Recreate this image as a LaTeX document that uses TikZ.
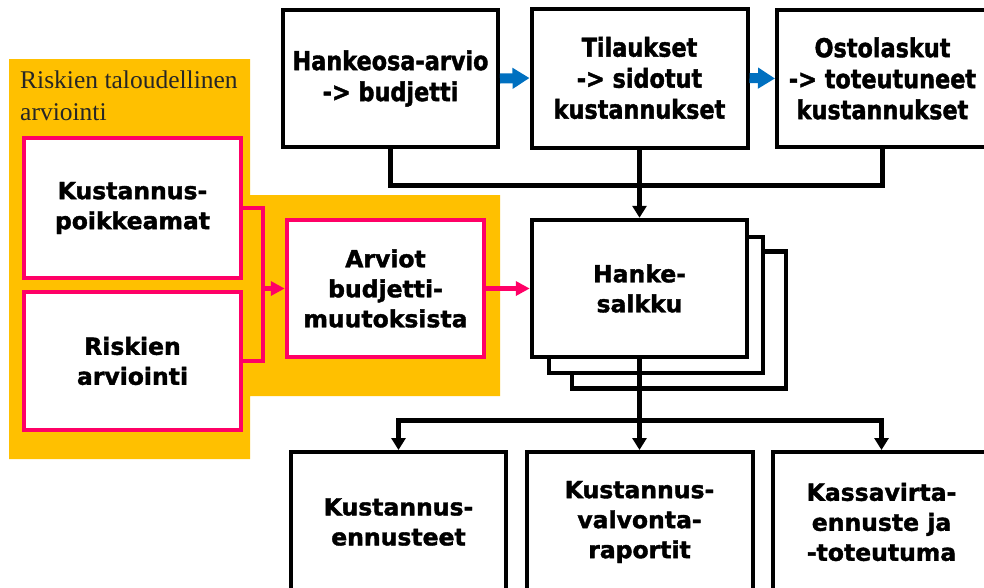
\documentclass[tikz,border=0pt]{standalone}
\usepackage{fontspec}
\setmainfont{DejaVu Sans}[BoldFeatures={FakeBold=1.6}]
\newfontfamily\titlefont{Liberation Serif}
\newfontfamily\condfont{DejaVu Sans}[FakeStretch=0.86,BoldFeatures={FakeBold=1.6}]
\usetikzlibrary{arrows.meta}
\definecolor{amber}{RGB}{255,192,0}
\definecolor{hotpink}{RGB}{255,0,102}
\definecolor{flowblue}{RGB}{0,112,192}
\begin{document}
\begin{tikzpicture}[x=1pt,y=-1pt,
  txt/.style={align=center,inner sep=0pt,font=\bfseries\fontsize{23.5}{30}\selectfont},
  topbox/.style={draw=black,line width=4pt,fill=white,align=center,inner sep=0pt,
    font=\condfont\bfseries\fontsize{26}{31}\selectfont},
  blackbox/.style={draw=black,line width=4.5pt,fill=white,txt},
  lowbox/.style={draw=black,line width=4pt,fill=white,txt},
  pinkbox/.style={draw=hotpink,line width=4.5pt,fill=white,txt},
  wire/.style={draw=black,line width=5pt},
  wirearrow/.style={wire,-{Triangle[length=12pt,width=14pt]}},
  pinkwire/.style={draw=hotpink,line width=4.5pt},
  pinkarrow/.style={pinkwire,-{Triangle[length=14pt,width=14pt]}},
  bluearrow/.style={draw=flowblue,line width=10pt,-{Triangle[length=17pt,width=20pt]}},
  title/.style={anchor=base west,inner sep=0pt,text=black!85,
    font=\titlefont\fontsize{25.5}{32}\selectfont}
]
\useasboundingbox (0,0) rectangle (984,587);
\clip (0,0) rectangle (984,587);
\fill[white] (0,0) rectangle (984,587);

% amber background of the risk-assessment group
\fill[amber] (9,59) -- (250,59) -- (250,195) -- (500,195) -- (500,396)
  -- (250,396) -- (250,459) -- (9,459) -- cycle;
\node[title] (title1) at (20,88) {Riskien taloudellinen};
\node[title] (title2) at (20,120) {arviointi};

% top row
\node[topbox,minimum width=215pt,minimum height=137pt] (b1) at (390.5,78.5)
  {Hankeosa-arvio\\-> budjetti};
\node[topbox,minimum width=216pt,minimum height=139pt] (b2) at (639.5,78)
  {Tilaukset\\-> sidotut\\kustannukset};
\node[topbox,minimum width=211pt,minimum height=137pt] (b3) at (882.5,78.5)
  {Ostolaskut\\-> toteutuneet\\kustannukset};
\draw[bluearrow] (b1.east) -- (b2.west);
\draw[bluearrow] (b2.east) -- (b3.west);

% project portfolio, stacked
\node[blackbox,minimum width=214pt,minimum height=137pt] (h3) at (679,320) {};
\node[blackbox,minimum width=214pt,minimum height=136pt] (h2) at (656,305) {};
\node[blackbox,minimum width=215pt,minimum height=137pt] (h) at (639.5,288.5)
  {Hanke-\\salkku};

% risk group boxes
\node[pinkbox,minimum width=217pt,minimum height=140pt] (p1) at (132.5,208)
  {Kustannus-\\poikkeamat};
\node[pinkbox,minimum width=217pt,minimum height=138pt] (p2) at (132.5,361)
  {Riskien\\arviointi};
\node[pinkbox,minimum width=197pt,minimum height=137pt] (a) at (385.5,288.5)
  {Arviot\\budjetti-\\muutoksista};

% bottom row
\node[lowbox,minimum width=215pt,minimum height=140pt] (k1) at (398.5,522)
  {Kustannus-\\ennusteet};
\node[lowbox,minimum width=226pt,minimum height=140pt] (k2) at (639.5,522)
  {Kustannus-\\valvonta-\\raportit};
\node[lowbox,minimum width=217pt,minimum height=140pt] (k3) at (881.5,522)
  {Kassavirta-\\ennuste ja\\-toteutuma};

% connectors
\coordinate (brk) at (263,288.5);
\draw[pinkwire] (p1.east) -| (brk) |- (p2.east);
\draw[pinkarrow] (brk) -- (a.west);
\draw[pinkarrow] (a.east) -- (h.west);

\draw[wire] (b1.south) -- ++(0,36) -| (b3.south);
\draw[wirearrow] (b2.south) -- (h.north);

\coordinate (jn) at (639.5,420);
\draw[wirearrow] (h.south) -- (k2.north);
\draw[wirearrow] (jn) -| (k1.north);
\draw[wirearrow] (jn) -| (k3.north);
\end{tikzpicture}
\end{document}
